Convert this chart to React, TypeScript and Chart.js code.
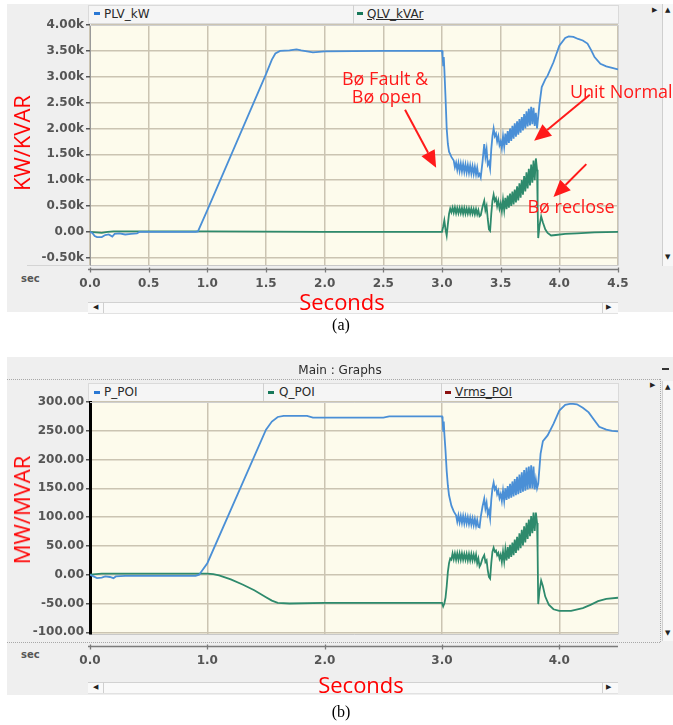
import React, { useEffect, useRef } from "react";
import { Chart, registerables } from "chart.js";
Chart.register(...registerables);

// ---------- Panel (a): PLV_kW / QLV_kVAr (values in k) ----------
const plvKW: [number, number][] = [
  [0, 0], [0.02, -0.02], [0.04, -0.08], [0.06, -0.1], [0.1, -0.1], [0.13, -0.06], [0.16, -0.05], [0.19, -0.09], [0.21, -0.04],
  [0.25, -0.03], [0.3, -0.05], [0.35, -0.04], [0.4, -0.03], [0.42, 0], [0.9, 0], [0.92, 0.01], [1.0, 0.42], [1.5, 3.05],
  [1.55, 3.33], [1.58, 3.45], [1.62, 3.5], [1.7, 3.51], [1.76, 3.53], [1.8, 3.51], [1.85, 3.49], [1.9, 3.47], [1.95, 3.48],
  [2.0, 3.49], [2.5, 3.5], [3.0, 3.5],
  [3.005, 3.4], [3.01, 3.22], [3.015, 3.38], [3.02, 3.15], [3.03, 2.6], [3.04, 2.0], [3.05, 1.7], [3.06, 1.55], [3.08, 1.45], [3.1, 1.38],
  [3.11, 1.25], [3.12, 1.34], [3.13, 1.2], [3.14, 1.33], [3.15, 1.18], [3.16, 1.32], [3.17, 1.17], [3.18, 1.31], [3.19, 1.16],
  [3.2, 1.3], [3.21, 1.15], [3.22, 1.29], [3.23, 1.14], [3.24, 1.28], [3.25, 1.13], [3.26, 1.27], [3.27, 1.12], [3.28, 1.26],
  [3.29, 1.11], [3.3, 1.24], [3.31, 1.08], [3.32, 1.12], [3.33, 1.05],
  [3.345, 1.35], [3.36, 1.7], [3.37, 1.45], [3.38, 1.6], [3.39, 1.3], [3.4, 1.35], [3.41, 1.22], [3.42, 1.6], [3.43, 1.85],
  [3.44, 2.0], [3.45, 1.85], [3.46, 1.9], [3.47, 1.75], [3.48, 1.85], [3.49, 1.68], [3.5, 1.75], [3.51, 1.62],
  [3.52, 1.85], [3.53, 1.65], [3.54, 1.9], [3.55, 1.68], [3.56, 1.95], [3.57, 1.72], [3.58, 2.0], [3.59, 1.76], [3.6, 2.05],
  [3.61, 1.8], [3.62, 2.1], [3.63, 1.84], [3.64, 2.14], [3.65, 1.88], [3.66, 2.18], [3.67, 1.92], [3.68, 2.22], [3.69, 1.96],
  [3.7, 2.28], [3.71, 2.0], [3.72, 2.33], [3.73, 2.04], [3.74, 2.38], [3.75, 2.06], [3.76, 2.42], [3.77, 2.08], [3.78, 2.4],
  [3.79, 2.05], [3.8, 2.3], [3.81, 2.0],
  [3.83, 2.45], [3.85, 2.8], [3.88, 2.95], [3.9, 3.02], [3.95, 3.28], [4.0, 3.6], [4.05, 3.75], [4.08, 3.78], [4.12, 3.77],
  [4.16, 3.73], [4.2, 3.7], [4.24, 3.64], [4.27, 3.52], [4.3, 3.38], [4.35, 3.25], [4.4, 3.2], [4.45, 3.17], [4.5, 3.14],
];

const qlvKVAr: [number, number][] = [
  [0, 0], [0.05, -0.01], [0.1, -0.02], [0.15, 0], [0.2, 0.01], [0.5, 0.01], [1.0, 0.01], [2.0, 0], [3.0, 0],
  [3.01, 0.1], [3.02, 0.22], [3.03, 0.05], [3.04, -0.07], [3.05, 0.15], [3.06, 0.35], [3.07, 0.45],
  [3.08, 0.38], [3.09, 0.47], [3.1, 0.37], [3.11, 0.47], [3.12, 0.36], [3.13, 0.46], [3.14, 0.36], [3.15, 0.46], [3.16, 0.36],
  [3.17, 0.46], [3.18, 0.35], [3.19, 0.46], [3.2, 0.35], [3.21, 0.45], [3.22, 0.35], [3.23, 0.45], [3.24, 0.35], [3.25, 0.45],
  [3.26, 0.35], [3.27, 0.44], [3.28, 0.34], [3.29, 0.44], [3.3, 0.34], [3.31, 0.42], [3.32, 0.3], [3.33, 0.32],
  [3.345, 0.48], [3.36, 0.6], [3.37, 0.42], [3.38, 0.5], [3.39, 0.25], [3.4, 0.05], [3.41, 0.02], [3.42, 0.35], [3.43, 0.6],
  [3.44, 0.72], [3.45, 0.6], [3.46, 0.65], [3.47, 0.5], [3.48, 0.6], [3.49, 0.45], [3.5, 0.55],
  [3.51, 0.4], [3.52, 0.62], [3.53, 0.42], [3.54, 0.66], [3.55, 0.44], [3.56, 0.7], [3.57, 0.47], [3.58, 0.74], [3.59, 0.5],
  [3.6, 0.78], [3.61, 0.53], [3.62, 0.82], [3.63, 0.57], [3.64, 0.88], [3.65, 0.61], [3.66, 0.94], [3.67, 0.66], [3.68, 1.0],
  [3.69, 0.72], [3.7, 1.08], [3.71, 0.78], [3.72, 1.15], [3.73, 0.84], [3.74, 1.22], [3.75, 0.9], [3.76, 1.3], [3.77, 0.95],
  [3.78, 1.38], [3.79, 1.0], [3.8, 1.42], [3.81, 1.2],
  [3.815, 0.5], [3.82, -0.12], [3.83, 0.1], [3.845, 0.3], [3.86, 0.18], [3.88, 0.05], [3.9, -0.02], [3.93, -0.07], [3.97, -0.06],
  [4.05, -0.04], [4.15, -0.03], [4.3, -0.01], [4.5, 0],
];

// ---------- Panel (b): P_POI / Q_POI (MW / MVAR) ----------
const pPOI: [number, number][] = [
  [0, 0], [0.03, -3], [0.06, -6], [0.1, -5], [0.13, -3], [0.17, -4], [0.2, -6], [0.22, -3], [0.3, -2], [0.9, -2], [0.93, 0],
  [1.0, 20], [1.5, 252], [1.55, 266], [1.6, 274], [1.65, 276], [1.85, 276], [1.9, 273], [2.5, 273], [2.55, 275], [3.0, 275],
  [3.005, 270], [3.01, 250], [3.015, 266], [3.02, 245], [3.03, 215], [3.04, 180], [3.05, 155], [3.06, 138], [3.08, 120],
  [3.1, 110], [3.12, 103],
  [3.13, 92], [3.14, 103], [3.15, 91], [3.16, 102], [3.17, 90], [3.18, 102], [3.19, 89], [3.2, 101], [3.21, 89], [3.22, 100],
  [3.23, 88], [3.24, 99], [3.25, 87], [3.26, 98], [3.27, 86], [3.28, 97], [3.29, 85], [3.3, 95], [3.31, 83], [3.32, 82],
  [3.33, 100], [3.345, 118], [3.36, 132], [3.37, 115], [3.38, 125], [3.39, 105], [3.4, 112], [3.41, 98], [3.42, 130],
  [3.43, 150], [3.44, 160], [3.45, 148], [3.46, 152], [3.47, 140], [3.48, 146], [3.49, 133], [3.5, 140], [3.51, 128],
  [3.52, 146], [3.53, 128], [3.54, 150], [3.55, 130], [3.56, 154], [3.57, 132], [3.58, 158], [3.59, 134], [3.6, 162],
  [3.61, 136], [3.62, 166], [3.63, 138], [3.64, 170], [3.65, 140], [3.66, 174], [3.67, 142], [3.68, 178], [3.69, 144],
  [3.7, 182], [3.71, 146], [3.72, 186], [3.73, 148], [3.74, 188], [3.75, 150], [3.76, 190], [3.77, 150], [3.78, 188],
  [3.79, 148], [3.8, 165], [3.81, 150],
  [3.82, 158], [3.84, 210], [3.86, 232], [3.9, 242], [3.95, 262], [4.0, 285], [4.05, 295], [4.1, 297], [4.15, 296],
  [4.2, 290], [4.25, 282], [4.3, 268], [4.34, 257], [4.4, 252], [4.45, 250], [4.5, 249],
];

const qPOI: [number, number][] = [
  [0, 0], [0.05, 1], [0.1, 2], [0.3, 2], [1.0, 2], [1.05, 1], [1.1, -1], [1.2, -8], [1.3, -17], [1.4, -27], [1.5, -39],
  [1.55, -45], [1.6, -49], [1.7, -50], [2.0, -49], [2.5, -49], [3.0, -49],
  [3.01, -55], [3.02, -50], [3.03, -40], [3.04, -20], [3.05, 5], [3.06, 20], [3.07, 28],
  [3.08, 26], [3.09, 37], [3.1, 27], [3.11, 37], [3.12, 26], [3.13, 37], [3.14, 26], [3.15, 37], [3.16, 26], [3.17, 37],
  [3.18, 26], [3.19, 36], [3.2, 26], [3.21, 36], [3.22, 25], [3.23, 36], [3.24, 25], [3.25, 36], [3.26, 25], [3.27, 35],
  [3.28, 25], [3.29, 35], [3.3, 20], [3.31, 28], [3.32, 14], [3.33, 18],
  [3.345, 28], [3.36, 34], [3.37, 22], [3.38, 25], [3.39, 8], [3.4, -4], [3.41, -7], [3.42, 20], [3.43, 40], [3.44, 47],
  [3.45, 40], [3.46, 42], [3.47, 34], [3.48, 38], [3.49, 28], [3.5, 35], [3.51, 22],
  [3.52, 40], [3.53, 23], [3.54, 44], [3.55, 25], [3.56, 48], [3.57, 28], [3.58, 52], [3.59, 31], [3.6, 56], [3.61, 34],
  [3.62, 61], [3.63, 38], [3.64, 66], [3.65, 42], [3.66, 72], [3.67, 46], [3.68, 78], [3.69, 51], [3.7, 84], [3.71, 56],
  [3.72, 90], [3.73, 62], [3.74, 96], [3.75, 67], [3.76, 102], [3.77, 72], [3.78, 108], [3.79, 76], [3.8, 108], [3.81, 90],
  [3.815, 40], [3.82, -51], [3.83, -30], [3.845, -10], [3.86, -20], [3.88, -38], [3.91, -52], [3.95, -60], [4.0, -63],
  [4.1, -63], [4.2, -58], [4.27, -52], [4.33, -46], [4.4, -42], [4.5, -40],
];

// ---------- ticks ----------
const aXTicks = [0, 0.5, 1.0, 1.5, 2.0, 2.5, 3.0, 3.5, 4.0, 4.5];
const aYTicks = [-0.5, 0, 0.5, 1.0, 1.5, 2.0, 2.5, 3.0, 3.5, 4.0];
const bXTicks = [0, 1.0, 2.0, 3.0, 4.0];
const bYTicks = [-100, -50, 0, 50, 100, 150, 200, 250, 300];

// ---------- annotations of panel (a), in data units ----------
const annotTexts = ["Bø Fault &", "Bø open", "Unit Normal", "Bø reclose"];
const annotT = [2.515, 2.53, 4.09, 4.1];
const annotV = [2.94, 2.59, 2.69, 0.46];
const annotAlign: CanvasTextAlign[] = ["center", "center", "left", "center"];
const arrowFromT = [2.685, 4.26, 4.23];
const arrowFromV = [2.36, 2.65, 1.31];
const arrowToT = [2.95, 3.785, 3.95];
const arrowToV = [1.24, 1.76, 0.675];

const BLUE = "#4a8fd6";
const GREEN = "#2e8a6c";
const TICKFONT = { family: '"DejaVu Sans"', size: 12, weight: "bold" as const };

function drawArrow(ctx: CanvasRenderingContext2D, x1: number, y1: number, x2: number, y2: number) {
  const ang = Math.atan2(y2 - y1, x2 - x1);
  const L = 17, W = 7.5;
  const bx = x2 - L * Math.cos(ang), by = y2 - L * Math.sin(ang);
  ctx.beginPath();
  ctx.moveTo(x1, y1);
  ctx.lineTo(bx, by);
  ctx.stroke();
  ctx.beginPath();
  ctx.moveTo(x2, y2);
  ctx.lineTo(bx + W * Math.sin(ang), by - W * Math.cos(ang));
  ctx.lineTo(bx - W * Math.sin(ang), by + W * Math.cos(ang));
  ctx.closePath();
  ctx.fill();
}

function chromePlugin(axisOffset: number, annotate: boolean) {
  return {
    id: "chrome",
    beforeDraw(chart: any) {
      const { ctx, chartArea: a } = chart;
      ctx.save();
      ctx.fillStyle = "#fdfbec";
      ctx.fillRect(a.left, a.top, a.right - a.left, a.bottom - a.top);
      ctx.restore();
    },
    afterDraw(chart: any) {
      const { ctx, chartArea: a, scales } = chart;
      ctx.save();
      ctx.strokeStyle = "#cfcfcf";
      ctx.lineWidth = 1;
      ctx.beginPath();
      ctx.moveTo(a.left, a.top + 0.5);
      ctx.lineTo(a.right + 0.5, a.top + 0.5);
      ctx.lineTo(a.right + 0.5, a.bottom);
      ctx.stroke();
      const y = Math.round(a.bottom + axisOffset) + 0.5;
      ctx.strokeStyle = "#7a7a7a";
      ctx.lineWidth = 1.3;
      ctx.beginPath();
      ctx.moveTo(a.left - 2, y);
      ctx.lineTo(a.right, y);
      scales.x.ticks.forEach((t: any) => {
        const px = Math.round(scales.x.getPixelForValue(t.value)) + 0.5;
        ctx.moveTo(px, y - 2);
        ctx.lineTo(px, y + 3);
      });
      ctx.stroke();
      if (annotate) {
        const xs = scales.x, ys = scales.y;
        ctx.fillStyle = "#ff1a1a";
        ctx.strokeStyle = "#ff1a1a";
        ctx.font = '18px "Open Sans"';
        ctx.textBaseline = "middle";
        annotTexts.forEach((txt, i) => {
          ctx.textAlign = annotAlign[i];
          ctx.fillText(txt, xs.getPixelForValue(annotT[i]), ys.getPixelForValue(annotV[i]));
        });
        ctx.lineWidth = 2;
        arrowFromT.forEach((_, i) => {
          drawArrow(
            ctx,
            xs.getPixelForValue(arrowFromT[i]), ys.getPixelForValue(arrowFromV[i]),
            xs.getPixelForValue(arrowToT[i]), ys.getPixelForValue(arrowToV[i])
          );
        });
      }
      ctx.restore();
    },
  };
}

function makeChart(
  canvas: HTMLCanvasElement,
  series: { data: [number, number][]; color: string }[],
  xTicks: number[], yTicks: number[],
  xMax: number, yMin: number, yMax: number,
  padTop: number, axisH: number, axisOffset: number,
  yFmt: (v: number) => string, xFmt: (v: number) => string,
  yBorder: { color: string; width: number },
  annotate: boolean
) {
  return new Chart(canvas, {
    type: "line",
    data: {
      datasets: series.map((s) => ({
        data: s.data.map(([x, y]) => ({ x, y })),
        borderColor: s.color,
        borderWidth: 1.8,
        pointRadius: 0,
        tension: 0,
        fill: false,
      })),
    },
    options: {
      responsive: false,
      animation: false,
      events: [],
      layout: { padding: { left: 0, right: 55, top: padTop, bottom: 0 } },
      plugins: { legend: { display: false }, tooltip: { enabled: false }, title: { display: false } },
      scales: {
        x: {
          type: "linear",
          min: 0,
          max: xMax,
          afterBuildTicks: (s: any) => { s.ticks = xTicks.map((v) => ({ value: v })); },
          afterFit: (s: any) => { s.height = axisH; },
          grid: { color: "#cbc4b2", lineWidth: 1.5, drawTicks: false },
          border: { display: true, color: "#c9c9c9", width: 1 },
          ticks: { color: "#555", font: TICKFONT, padding: axisOffset + 8, maxRotation: 0, autoSkip: false, callback: (v: any) => xFmt(Number(v)) },
        },
        y: {
          type: "linear",
          min: yMin,
          max: yMax,
          afterBuildTicks: (s: any) => { s.ticks = yTicks.map((v) => ({ value: v })); },
          afterFit: (s: any) => { s.width = 90; },
          grid: { color: "#cbc4b2", lineWidth: 1.5, drawTicks: true, tickLength: 4, tickColor: "#555" },
          border: { display: true, color: yBorder.color, width: yBorder.width },
          ticks: { color: "#555", font: TICKFONT, padding: 2, autoSkip: false, callback: (v: any) => yFmt(Number(v)) },
        },
      },
    },
    plugins: [chromePlugin(axisOffset, annotate) as any],
  });
}

const abs = (s: React.CSSProperties): React.CSSProperties => ({ position: "absolute", ...s });
const legendText: React.CSSProperties = { font: '12px "DejaVu Sans"', color: "#2a2a2a", whiteSpace: "nowrap", lineHeight: "14px" };
const red: React.CSSProperties = { color: "#ff0000", font: '22px "Open Sans"', whiteSpace: "nowrap", lineHeight: 1 };
const arrowGlyph: React.CSSProperties = { font: '7px "DejaVu Sans"', color: "#222", lineHeight: 1 };

export default function App() {
  const refA = useRef<HTMLCanvasElement>(null);
  const refB = useRef<HTMLCanvasElement>(null);

  useEffect(() => {
    const ca = makeChart(
      refA.current!,
      [{ data: plvKW, color: BLUE }, { data: qlvKVAr, color: GREEN }],
      aXTicks, aYTicks, 4.5, -0.64, 4.0,
      25, 35, 4,
      (v) => (v === 0 ? "0.00" : v.toFixed(2) + "k"), (v) => v.toFixed(1),
      { color: "#9a9a9a", width: 1 }, true
    );
    const cb = makeChart(
      refB.current!,
      [{ data: pPOI, color: BLUE }, { data: qPOI, color: GREEN }],
      bXTicks, bYTicks, 4.5, -103, 300,
      22, 46, 12,
      (v) => v.toFixed(2), (v) => v.toFixed(1),
      { color: "#000", width: 3 }, false
    );
    return () => { ca.destroy(); cb.destroy(); };
  }, []);

  const hScroll = (top: number) => (
    <>
      <div style={abs({ left: 88, top, width: 530, height: 10, background: "#f9f9f9", borderTop: "1px solid #d2d2d2", borderBottom: "1px solid #e2e2e2" })} />
      <div style={abs({ left: 103, top, width: 1, height: 11, background: "#cfcfcf" })} />
      <div style={abs({ left: 602, top, width: 1, height: 11, background: "#cfcfcf" })} />
      <div style={abs({ left: 93, top: top + 2, ...arrowGlyph })}>◀</div>
      <div style={abs({ left: 606, top: top + 2, ...arrowGlyph })}>▶</div>
    </>
  );

  return (
    <div style={{ position: "fixed", left: 0, top: 0, width: 673, height: 725, background: "#fff", overflow: "hidden" }}>
      {/* ----- panel (a) chrome ----- */}
      <div style={abs({ left: 7, top: 4, width: 666, height: 308, background: "#efefef" })} />
      <div style={abs({ left: 88, top: 5, width: 529, height: 17, background: "#f5f5f5", border: "1px solid #dadada" })} />
      <div style={abs({ left: 353, top: 5, width: 1, height: 19, background: "#d0d0d0" })} />
      <div style={abs({ left: 94, top: 12, width: 6, height: 3, background: "#2a78d4" })} />
      <div style={abs({ left: 104, top: 7, ...legendText })}>PLV_kW</div>
      <div style={abs({ left: 357, top: 12, width: 6, height: 3, background: "#17785a" })} />
      <div style={abs({ left: 367, top: 7, ...legendText, textDecoration: "underline" })}>QLV_kVAr</div>
      <div style={abs({ left: 662, top: 4, width: 11, height: 262, background: "#f7f7f7", borderLeft: "1px solid #cfcfcf" })} />
      <div style={abs({ left: 665, top: 7, ...arrowGlyph })}>▲</div>
      <div style={abs({ left: 665, top: 254, ...arrowGlyph })}>▼</div>
      <div style={abs({ left: 652, top: 7, ...arrowGlyph })}>▶</div>
      <div style={abs({ left: 27, top: 265, width: 591, height: 1, background: "#d4d4d4" })} />
      <div style={abs({ left: 21, top: 273, font: 'bold 10px "DejaVu Sans"', color: "#555" })}>sec</div>
      {hScroll(302)}
      <canvas ref={refA} width={673} height={300} style={abs({ left: 0, top: 0 })} />
      <div style={abs({ left: 21, top: 143, transform: "translate(-50%,-50%) rotate(-90deg)", ...red })}>KW/KVAR</div>
      <div style={abs({ left: 342, top: 301, transform: "translate(-50%,-50%)", ...red })}>Seconds</div>
      <div style={abs({ left: 341, top: 325, transform: "translate(-50%,-50%)", font: '16px "Liberation Serif"', color: "#000", lineHeight: 1 })}>(a)</div>

      {/* ----- panel (b) chrome ----- */}
      <div style={abs({ left: 7, top: 357, width: 666, height: 338, background: "#efefef" })} />
      <div style={abs({ left: 340, top: 370, transform: "translate(-50%,-50%)", ...legendText })}>Main : Graphs</div>
      <div style={abs({ left: 7, top: 379, width: 653, height: 0, borderTop: "1px dotted #a8a8a8" })} />
      <div style={abs({ left: 660, top: 379, width: 0, height: 263, borderLeft: "1px dotted #a8a8a8" })} />
      <div style={abs({ left: 88, top: 383, width: 529, height: 18, background: "#f5f5f5", border: "1px solid #dadada" })} />
      <div style={abs({ left: 263, top: 383, width: 1, height: 20, background: "#d0d0d0" })} />
      <div style={abs({ left: 441, top: 383, width: 1, height: 20, background: "#d0d0d0" })} />
      <div style={abs({ left: 94, top: 391, width: 6, height: 3, background: "#2a78d4" })} />
      <div style={abs({ left: 104, top: 385, ...legendText })}>P_POI</div>
      <div style={abs({ left: 268, top: 391, width: 6, height: 3, background: "#17785a" })} />
      <div style={abs({ left: 279, top: 385, ...legendText })}>Q_POI</div>
      <div style={abs({ left: 445, top: 391, width: 6, height: 3, background: "#8b1010" })} />
      <div style={abs({ left: 455, top: 385, ...legendText, textDecoration: "underline" })}>Vrms_POI</div>
      <div style={abs({ left: 662, top: 381, width: 11, height: 260, background: "#f7f7f7", borderLeft: "1px solid #cfcfcf" })} />
      <div style={abs({ left: 665, top: 384, ...arrowGlyph })}>▲</div>
      <div style={abs({ left: 665, top: 630, ...arrowGlyph })}>▼</div>
      <div style={abs({ left: 650, top: 382, ...arrowGlyph })}>▶</div>
      <div style={abs({ left: 662, top: 368, width: 7, height: 2, background: "#333" })} />
      <div style={abs({ left: 7, top: 642, width: 653, height: 0, borderTop: "1px dotted #a8a8a8" })} />
      <div style={abs({ left: 21, top: 649, font: 'bold 10px "DejaVu Sans"', color: "#555" })}>sec</div>
      {hScroll(682)}
      <canvas ref={refB} width={673} height={300} style={abs({ left: 0, top: 380 })} />
      <div style={abs({ left: 21, top: 510, transform: "translate(-50%,-50%) rotate(-90deg)", ...red })}>MW/MVAR</div>
      <div style={abs({ left: 361, top: 684, transform: "translate(-50%,-50%)", ...red })}>Seconds</div>
      <div style={abs({ left: 341, top: 712, transform: "translate(-50%,-50%)", font: '16px "Liberation Serif"', color: "#000", lineHeight: 1 })}>(b)</div>
    </div>
  );
}
